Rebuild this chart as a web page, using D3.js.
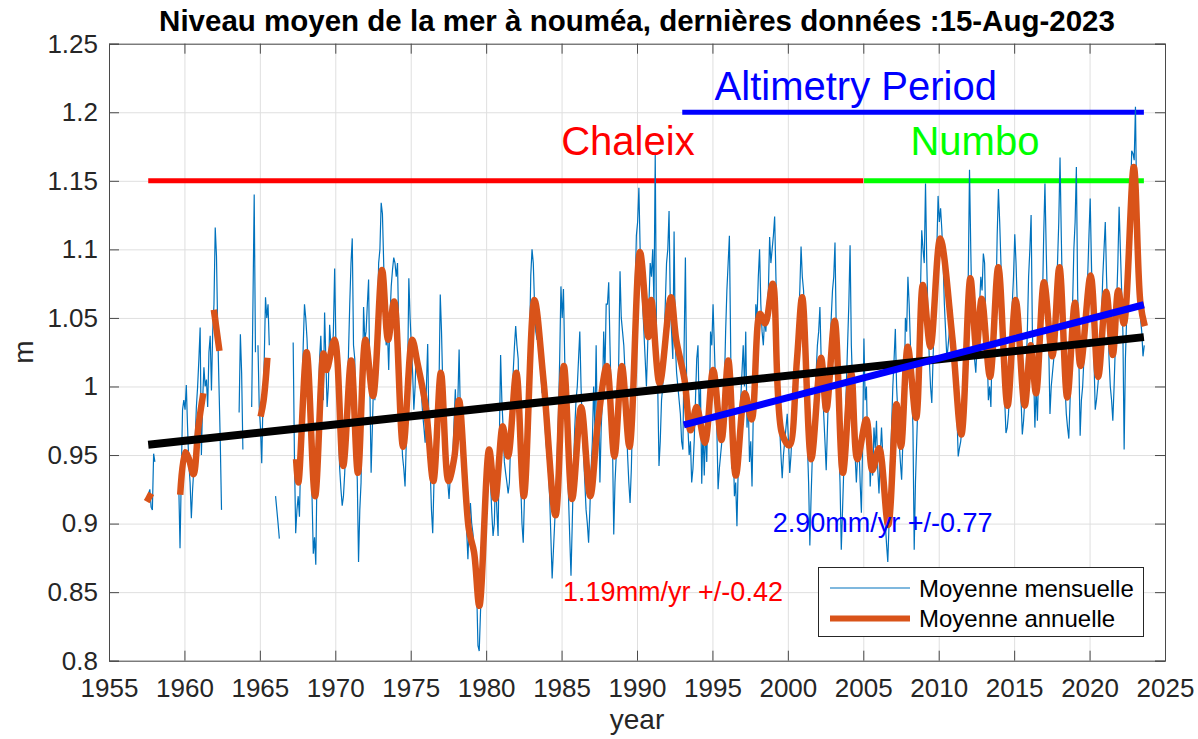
<!DOCTYPE html>
<html>
<head>
<meta charset="utf-8">
<script src="https://cdn.jsdelivr.net/npm/d3@7"></script>
<style>
  body { margin: 0; background: #fff; }
  text { font-family: "Liberation Sans", Arial, Helvetica, sans-serif; }
</style>
</head>
<body>
<svg id="chart" width="1198" height="739"></svg>
<script>
// monthly mean sea level (m), one value per month starting january of the first year
var monthly1950s = [ // 1957-1959
  null, null, null, null, null, null, 0.918, 0.922, 0.925, 0.912, 0.910, 0.951,
  0.945, null, null, null, null, null, null, null, null, null, null, null,
  null, null, null, null, null, null, null, 0.928, 0.882, 0.935, 0.983, 0.990
];
var monthly1960s = [
  0.983, 1.001, 0.970, 0.944, 0.930, 0.904, 0.925, 0.940, 0.960, 0.985, 1.000, 1.020,
  1.043, 0.950, 0.990, 1.014, 1.000, 1.005, 0.985, 1.025, 1.037, 0.997, 1.040, 1.060,
  1.116, 1.095, 1.040, 1.000, 0.960, 0.910, null, null, null, null, null, null,
  null, null, null, null, null, null, null, 0.981, 1.038, 1.010, 0.954, null,
  null, null, null, null, null, 0.985, 1.060, 1.140, 1.025, null, 1.030, 0.985,
  0.970, 0.944, 0.990, 1.020, 1.065, 1.050, 1.060, 1.030, null, null, null, null,
  0.920, 0.910, 0.900, 0.889, null, null, null, null, null, null, null, null,
  null, null, 1.032, 0.950, 0.893, 0.910, 0.920, 0.905, 0.950, 0.990, 1.030, 1.060,
  1.050, 1.035, 1.010, 0.980, 0.950, 0.920, 0.878, 0.890, 0.870, 0.940, 0.990, 1.020,
  1.037, 1.010, 0.990, 1.054, 1.020, 0.985, 1.000, 1.045, 1.030, 1.020, 1.040, 1.086
];
var monthly1970s = [
  1.030, 1.000, 0.970, 0.940, 0.925, 0.913, 0.920, 0.937, 0.960, 0.990, 1.024, 1.060,
  1.090, 1.108, 1.030, 1.020, 0.950, 0.932, 0.872, 0.910, 0.930, 0.990, 1.058, 1.034,
  1.040, 1.060, 1.078, 1.000, 0.937, 0.970, 1.005, 0.990, 1.030, 1.048, 1.090, 1.100,
  1.134, 1.126, 1.090, 1.048, 1.030, 1.040, 1.012, 1.050, 1.073, 1.085, 1.094, 1.090,
  1.080, 1.090, 1.040, 1.010, 0.970, 0.949, 0.940, 0.927, 0.960, 1.005, 1.079, 1.050,
  1.030, 1.010, 0.983, 1.000, 1.031, 1.020, 1.010, 1.000, 0.995, 0.980, 0.970, 0.959,
  1.000, 1.031, 0.970, 0.940, 0.910, 0.893, 0.930, 0.950, 0.940, 0.970, 1.000, 1.067,
  1.040, 1.000, 0.970, 0.940, 0.935, 0.930, 0.918, 0.935, 0.940, 0.950, 0.975, 0.998,
  0.970, 0.990, 1.027, 0.980, 0.960, 0.930, 0.932, 0.920, 0.895, 0.874, 0.900, 0.915,
  0.900, 0.893, 0.880, 0.870, 0.850, 0.811, 0.807, 0.835, 0.860, 0.875, 0.889, 0.920
];
var monthly1980s = [
  0.940, 0.952, 0.945, 0.930, 0.908, 0.891, 0.900, 0.937, 0.910, 0.891, 0.960, 1.023,
  0.990, 0.970, 0.945, 0.937, 0.930, 0.922, 0.930, 0.960, 0.980, 1.010, 1.029, 1.044,
  1.030, 1.020, 0.960, 0.930, 0.900, 0.886, 0.920, 0.950, 0.960, 0.980, 1.030, 1.081,
  1.100, 1.090, 1.060, 1.040, 1.034, 1.040, 1.020, 1.010, 0.995, 1.000, 0.980, 0.960,
  0.950, 0.940, 0.920, 0.890, 0.860, 0.880, 0.900, 0.920, 0.950, 0.980, 1.020, 1.073,
  1.050, 1.071, 1.020, 0.990, 0.950, 0.920, 0.890, 0.862, 0.900, 0.940, 0.970, 0.990,
  1.000, 1.020, 1.040, 1.000, 0.970, 0.950, 0.930, 0.910, 0.900, 0.886, 0.910, 0.940,
  0.960, 1.000, 0.970, 1.030, 0.960, 0.990, 0.930, 0.970, 0.990, 1.040, 1.010, 1.060,
  1.060, 1.076, 1.030, 0.990, 0.960, 0.892, 0.930, 0.950, 0.980, 1.020, 1.084, 1.050,
  1.040, 1.030, 1.010, 0.980, 0.950, 0.930, 0.915, 0.940, 0.980, 1.030, 1.070, 1.110
];
var monthly1990s = [
  1.120, 1.145, 1.100, 1.080, 1.060, 1.040, 1.020, 1.000, 1.030, 1.060, 1.090, 1.080,
  1.100, 1.060, 1.170, 1.040, 1.000, 0.942, 0.960, 0.990, 1.000, 1.030, 1.060, 1.090,
  1.100, 1.128, 1.060, 1.040, 1.020, 1.113, 1.030, 1.010, 1.000, 0.990, 0.980, 0.960,
  0.954, 1.030, 1.094, 1.000, 0.970, 0.950, 0.960, 0.930, 0.940, 0.960, 0.990, 1.020,
  1.030, 0.980, 1.000, 0.929, 0.970, 0.935, 0.970, 0.945, 0.990, 0.980, 1.040, 1.030,
  1.060, 1.030, 1.000, 0.970, 0.925, 0.940, 0.950, 0.960, 0.970, 1.000, 1.040, 1.070,
  1.090, 1.110, 1.030, 0.940, 0.960, 0.920, 0.930, 0.898, 0.940, 0.970, 0.990, 1.010,
  1.030, 1.000, 1.040, 0.970, 0.990, 0.945, 0.960, 0.927, 0.980, 0.990, 1.060, 1.050,
  1.080, 1.100, 1.060, 1.040, 1.030, 1.050, 1.040, 1.060, 1.070, 1.109, 1.090, 1.100,
  1.110, 1.124, 1.080, 1.040, 1.000, 0.970, 0.950, 0.933, 0.950, 0.960, 0.970, 0.980
];
var monthly2000s = [
  0.960, 0.937, 0.950, 0.970, 0.990, 1.010, 1.020, 1.040, 1.050, 1.070, 1.102, 1.080,
  1.070, 1.040, 1.000, 0.960, 0.930, 0.884, 0.920, 0.950, 0.970, 0.990, 1.010, 1.030,
  1.040, 1.058, 1.020, 1.000, 0.980, 0.960, 0.939, 0.970, 1.000, 1.020, 1.050, 1.070,
  1.080, 1.105, 1.040, 1.000, 0.960, 0.930, 0.881, 0.910, 0.940, 0.970, 1.000, 1.030,
  1.060, 1.103, 1.030, 1.000, 0.970, 0.950, 0.930, 0.950, 0.960, 0.930, 0.908, 0.960,
  1.035, 0.990, 1.000, 0.955, 0.970, 0.927, 0.950, 0.935, 0.970, 0.955, 0.975, 0.940,
  0.922, 0.950, 0.970, 0.950, 0.920, 0.900, 0.885, 0.872, 0.900, 0.940, 0.970, 1.000,
  1.020, 1.042, 1.000, 0.980, 0.960, 0.945, 0.932, 0.960, 0.990, 1.050, 1.040, 1.080,
  1.060, 1.030, 1.000, 0.970, 0.881, 0.930, 0.960, 0.990, 1.030, 1.070, 1.114, 1.100,
  1.090, 1.148, 1.090, 1.050, 1.020, 1.000, 0.988, 1.020, 1.050, 1.080, 1.100, 1.139
];
var monthly2010s = [
  1.120, 1.130, 1.114, 1.090, 1.060, 1.040, 1.020, 1.030, 1.040, 1.050, 1.056, 1.040,
  1.020, 1.000, 0.980, 0.949, 0.955, 0.960, 0.970, 1.000, 1.020, 1.030, 1.040, 1.080,
  1.158, 1.100, 1.050, 1.030, 1.020, 1.010, 1.030, 1.050, 1.060, 1.080, 1.070, 1.097,
  1.090, 1.040, 1.030, 0.990, 1.000, 0.985, 1.030, 1.020, 1.070, 1.060, 1.110, 1.144,
  1.120, 1.090, 1.050, 1.020, 0.990, 0.966, 0.970, 0.980, 1.000, 1.030, 1.060, 1.080,
  1.111, 1.090, 1.060, 1.040, 1.020, 0.990, 0.965, 0.975, 0.990, 1.010, 1.040, 1.080,
  1.100, 1.125, 1.040, 1.010, 0.970, 1.000, 0.975, 1.010, 1.010, 1.050, 1.060, 1.110,
  1.148, 1.100, 1.060, 1.030, 0.980, 1.000, 1.010, 1.020, 1.040, 1.060, 1.090, 1.120,
  1.167, 1.110, 1.060, 1.030, 1.000, 0.980, 0.970, 0.962, 0.990, 1.020, 1.060, 1.100,
  1.120, 1.160, 1.070, 1.020, 0.964, 0.990, 1.000, 1.020, 1.040, 1.060, 1.080, 1.110
];
var monthly2020s = [
  1.137, 1.090, 1.050, 1.020, 0.983, 0.990, 1.000, 1.010, 1.030, 1.050, 1.080, 1.100,
  1.120, 1.080, 1.050, 1.020, 1.000, 0.990, 0.975, 1.000, 1.030, 1.060, 1.090, 1.131,
  1.100, 1.070, 1.040, 0.954, 1.020, 1.050, 1.080, 1.110, 1.130, 1.172, 1.170, 1.165,
  1.204, 1.130, 1.080, 1.060, 1.050, 1.040, 1.022, 1.030
];
var monthlyStartYear = 1957;

// smoothed annual mean (null = gap)
var annualYears = [
  1957.5, 1957.65, 1957.8, null,
  1959.72, 1960.05, 1960.27, 1960.6, 1960.93, 1961.25, null,
  1961.95, 1962.32, null,
  1965.05, 1965.25, 1965.5, null,
  1967.4, 1967.55, 1968.1, 1968.66, 1969.22, 1969.42, 1969.95, 1970.52, 1971.05, 1971.5,
  1972.0, 1972.5, 1973.1, 1973.5, 1973.9, 1974.5, 1975.1, 1975.45, 1976.0, 1976.5,
  1977.0, 1977.5, 1977.9, 1978.2, 1978.85, 1979.2, 1979.55, 1980.2, 1980.6, 1981.1,
  1981.45, 1982.0, 1982.5, 1983.2, 1983.8, 1984.6, 1985.15, 1985.7, 1986.3, 1986.9,
  1987.4, 1988.0, 1988.5, 1989.0, 1989.5, 1990.2, 1990.75, 1990.95, 1991.5, 1992.25,
  1992.6, 1993.15, 1993.55, 1993.95, 1994.5, 1995.05, 1995.6, 1996.05, 1996.55, 1997.15,
  1997.6, 1998.15, 1998.5, 1999.0, 1999.6, 2000.1, 2000.6, 2000.95, 2001.55, 2002.2,
  2002.55, 2003.1, 2003.65, 2004.2, 2004.6, 2005.2, 2005.6, 2006.05, 2006.65, 2007.2,
  2007.5, 2007.95, 2008.5, 2008.95, 2009.45, 2010.1, 2010.9, 2011.5, 2012.1, 2012.5,
  2012.85, 2013.4, 2013.95, 2014.56, 2015.1, 2015.7, 2016.1, 2016.45, 2016.98, 2017.53,
  2018.0, 2018.52, 2019.03, 2019.4, 2020.07, 2020.57, 2021.1, 2021.54, 2021.9, 2022.27,
  2022.93, 2023.37, 2023.66
];
var annualLevels = [
  0.916, 0.919, 0.922, null,
  0.921, 0.952, 0.948, 0.936, 0.971, 0.995, null,
  1.056, 1.026, null,
  0.978, 0.990, 1.021, null,
  0.947, 0.930, 1.025, 0.920, 1.024, 1.012, 1.034, 0.942, 1.019, 0.937,
  1.034, 0.993, 1.085, 1.034, 1.062, 0.956, 1.034, 1.017, 0.985, 0.931,
  1.010, 0.931, 0.949, 0.990, 0.896, 0.879, 0.840, 0.954, 0.918, 0.971,
  0.949, 1.010, 0.920, 1.063, 1.005, 0.906, 1.015, 0.918, 0.985, 0.920,
  0.973, 1.015, 0.949, 1.015, 0.956, 1.098, 1.036, 1.063, 1.002, 1.065,
  1.034, 1.005, 0.968, 0.985, 0.959, 1.012, 0.961, 1.019, 0.935, 0.995,
  0.976, 1.053, 1.046, 1.075, 0.966, 0.957, 1.019, 1.065, 0.947, 1.021,
  0.983, 1.048, 0.937, 1.010, 0.947, 0.976, 0.939, 0.955, 0.899, 0.987,
  0.956, 1.029, 0.977, 1.074, 1.029, 1.108, 1.036, 0.965, 1.079, 1.027,
  1.064, 1.007, 1.087, 0.986, 1.063, 0.986, 1.030, 0.995, 1.076, 1.022,
  1.087, 0.992, 1.061, 1.015, 1.081, 1.007, 1.069, 1.023, 1.070, 1.046,
  1.160, 1.061, 1.044
];

// linear trends
var trendYears = [1957.6, 2023.6];
var trendLevels = [0.9575, 1.036];
var altiTrendYears = [1993.1, 2023.6];
var altiTrendLevels = [0.972, 1.0596];

// periods drawn along the top
var periodNames = ["Chaleix", "Numbo", "Altimetry Period"];
var periodStart = [1957.6, 2005.05, 1993.0];
var periodEnd = [2005.0, 2023.6, 2023.6];
var periodLevel = [1.15, 1.15, 1.2];
var periodColors = ["#ff0000", "#00ff00", "#0000ff"];

var xTicks = d3.range(1955, 2026, 5);
var yTicks = [0.8, 0.85, 0.9, 0.95, 1, 1.05, 1.1, 1.15, 1.2, 1.25];

var MARGIN = {left: 109, top: 43.7, right: 33, bottom: 78.3};
var width = 1198 - MARGIN.left - MARGIN.right;
var height = 739 - MARGIN.top - MARGIN.bottom;

var svg = d3.select("#chart");
svg.append("rect").attr("width", 1198).attr("height", 739).attr("fill", "#fff");

var g = svg.append("g")
  .attr("id", "container")
  .attr("transform", "translate(" + MARGIN.left + "," + MARGIN.top + ")");

var x = d3.scaleLinear().domain([1955, 2025]).range([0, width]);
var y = d3.scaleLinear().domain([0.8, 1.25]).range([height, 0]);

// build monthly points
var monthlyAll = [].concat(monthly1950s, monthly1960s, monthly1970s, monthly1980s,
  monthly1990s, monthly2000s, monthly2010s, monthly2020s);
var monthlyPoints = monthlyAll.map(function(v, i) {
  return {t: monthlyStartYear + (i + 0.5) / 12, v: v};
});
var annualPoints = annualYears.map(function(t, i) {
  return {t: t, v: annualLevels[i]};
});

function renderGrid(target) {
  target.append("g")
    .attr("class", "x-grid")
    .attr("transform", "translate(0 " + height + ")")
    .call(d3.axisBottom(x).tickValues(xTicks).tickSize(-height).tickFormat(""));
  target.append("g")
    .attr("class", "y-grid")
    .call(d3.axisLeft(y).tickValues(yTicks).tickSize(-width).tickFormat(""));
  target.selectAll(".x-grid line, .y-grid line")
    .style("stroke", "#dfdfdf")
    .style("stroke-width", "1px");
  target.selectAll(".x-grid .domain, .y-grid .domain").remove();
}

function renderAxes(target) {
  target.append("g")
    .attr("class", "x-axis")
    .attr("transform", "translate(0 " + height + ")")
    .call(d3.axisBottom(x).tickValues(xTicks).tickSize(-10).tickPadding(18)
      .tickFormat(d3.format("d")));
  target.append("g")
    .attr("class", "y-axis")
    .call(d3.axisLeft(y).tickValues(yTicks).tickSize(-10).tickPadding(11)
      .tickFormat(function(d) { return d3.format("")(d); }));
  target.append("g")
    .attr("class", "x-axis-top")
    .call(d3.axisTop(x).tickValues(xTicks).tickSize(-10).tickFormat(""));
  target.append("g")
    .attr("class", "y-axis-right")
    .attr("transform", "translate(" + width + " 0)")
    .call(d3.axisRight(y).tickValues(yTicks).tickSize(-10).tickFormat(""));

  target.selectAll(".x-axis path, .y-axis path, .x-axis-top path, .y-axis-right path, " +
      ".x-axis line, .y-axis line, .x-axis-top line, .y-axis-right line")
    .style("stroke", "#4a4a4a")
    .style("stroke-width", "1px");
  target.selectAll(".x-axis text, .y-axis text")
    .style("font-size", "26px")
    .style("fill", "#262626");
}

renderGrid(g);

g.append("clipPath").attr("id", "clip")
  .append("rect").attr("width", width).attr("height", height);

var plot = g.append("g").attr("clip-path", "url(#clip)");

// period bars
periodNames.forEach(function(name, i) {
  plot.append("line")
    .attr("x1", x(periodStart[i]))
    .attr("x2", x(periodEnd[i]))
    .attr("y1", y(periodLevel[i]))
    .attr("y2", y(periodLevel[i]))
    .style("stroke", periodColors[i])
    .style("stroke-width", "5px");
});

var monthlyLine = d3.line()
  .defined(function(d) { return d.v != null; })
  .x(function(d) { return x(d.t); })
  .y(function(d) { return y(d.v); });

plot.append("path")
  .datum(monthlyPoints)
  .attr("d", monthlyLine)
  .attr("fill", "none")
  .style("stroke", "#0072bd")
  .style("stroke-width", "1.2px");

var annualLine = d3.line()
  .defined(function(d) { return d.t != null && d.v != null; })
  .x(function(d) { return x(d.t); })
  .y(function(d) { return y(d.v); })
  .curve(d3.curveCatmullRom.alpha(0.5));

plot.append("path")
  .datum(annualPoints)
  .attr("d", annualLine)
  .attr("fill", "none")
  .style("stroke", "#d95319")
  .style("stroke-width", "6.5px")
  .style("stroke-linejoin", "round");

var trendLine = d3.line()
  .x(function(d) { return x(d[0]); })
  .y(function(d) { return y(d[1]); });

plot.append("path")
  .datum(d3.zip(trendYears, trendLevels))
  .attr("d", trendLine)
  .attr("fill", "none")
  .style("stroke", "#000")
  .style("stroke-width", "8px");

plot.append("path")
  .datum(d3.zip(altiTrendYears, altiTrendLevels))
  .attr("d", trendLine)
  .attr("fill", "none")
  .style("stroke", "#0000ff")
  .style("stroke-width", "7px");

renderAxes(g);

// period labels
var labelYear = [1989.4, 2012.4, 2004.5];
var labelLevel = [1.169, 1.169, 1.209];
periodNames.forEach(function(name, i) {
  g.append("text")
    .attr("x", x(labelYear[i]))
    .attr("y", y(labelLevel[i]))
    .attr("text-anchor", "middle")
    .style("font-size", "40px")
    .style("fill", periodColors[i])
    .text(name);
});

// trend labels
g.append("text")
  .attr("x", x(1985.1))
  .attr("y", y(0.8435))
  .style("font-size", "27px")
  .style("fill", "#ff0000")
  .text("1.19mm/yr +/-0.42");

g.append("text")
  .attr("x", x(1999.0))
  .attr("y", y(0.8935))
  .style("font-size", "27px")
  .style("fill", "#0000ff")
  .text("2.90mm/yr +/-0.77");

// legend
var legend = svg.append("g").attr("class", "legend");
legend.append("rect")
  .attr("x", 818.5).attr("y", 567.5)
  .attr("width", 325).attr("height", 69)
  .attr("fill", "#fff")
  .style("stroke", "#262626")
  .style("stroke-width", "1px");
var legendItems = [
  {label: "Moyenne mensuelle", color: "#0072bd", w: 1.2},
  {label: "Moyenne annuelle", color: "#d95319", w: 6}
];
legendItems.forEach(function(d, i) {
  var cy = 588 + i * 30.5;
  legend.append("line")
    .attr("x1", 830).attr("x2", 910)
    .attr("y1", cy).attr("y2", cy)
    .style("stroke", d.color)
    .style("stroke-width", d.w + "px");
  legend.append("text")
    .attr("x", 919)
    .attr("y", cy + 8.5)
    .style("font-size", "24px")
    .style("fill", "#000")
    .text(d.label);
});

// title and axis labels
svg.append("text")
  .attr("x", MARGIN.left + width / 2)
  .attr("y", 31)
  .attr("text-anchor", "middle")
  .style("font-size", "29.5px")
  .style("font-weight", "bold")
  .style("fill", "#000")
  .text("Niveau moyen de la mer à nouméa, dernières données :15-Aug-2023");

svg.append("text")
  .attr("x", MARGIN.left + width / 2)
  .attr("y", 729)
  .attr("text-anchor", "middle")
  .style("font-size", "28px")
  .style("fill", "#262626")
  .text("year");

svg.append("text")
  .attr("transform", "translate(33," + (MARGIN.top + height / 2) + ") rotate(-90)")
  .attr("text-anchor", "middle")
  .style("font-size", "28px")
  .style("fill", "#262626")
  .text("m");
</script>
</body>
</html>
